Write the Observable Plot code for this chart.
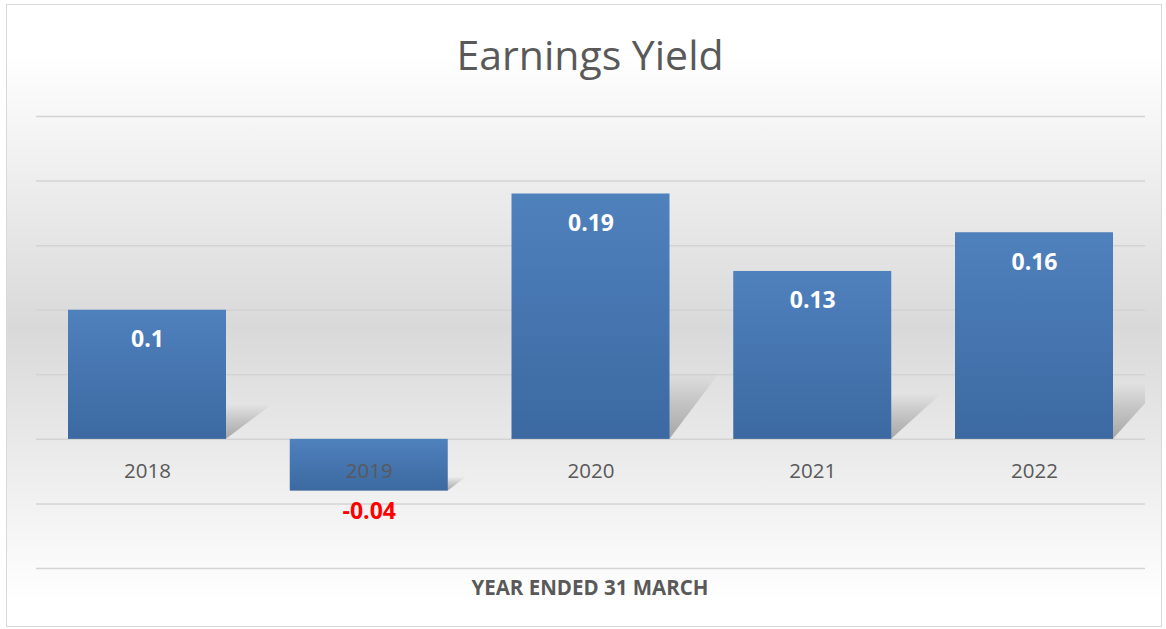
<!DOCTYPE html>
<html>
<head>
<meta charset="utf-8">
<script src="https://cdn.jsdelivr.net/npm/d3@7"></script>
<script src="https://cdn.jsdelivr.net/npm/@observablehq/plot@0.6"></script>
<style>
  body { margin: 0; background: #fff; }
  #chart { position: relative; width: 1166px; height: 629px; overflow: hidden; }
  #bg {
    position: absolute; left: 6px; top: 4px; width: 1156px; height: 623px;
    box-sizing: border-box; border: 1.5px solid #d9d9d9;
    background: linear-gradient(to bottom, #ffffff 0%, #ffffff 8%, #d9d9d9 52%, #ffffff 96%);
  }
  #title {
    position: absolute; left: 0; top: 34px; width: 1180px; text-align: center;
    font-family: "Open Sans", sans-serif; font-size: 41px; line-height: 40px; color: #595959;
  }
  #xlabel {
    position: absolute; left: 0; top: 577px; width: 1180px; text-align: center;
    font-family: "Open Sans", sans-serif; font-weight: bold; font-size: 20.5px; line-height: 20px; color: #595959;
  }
  #plot { position: absolute; left: 0; top: 0; }
  #plot svg { background: transparent; overflow: visible; }
</style>
</head>
<body>
<div id="chart">
  <div id="bg"></div>
  <div id="title"></div>
  <div id="plot"></div>
  <div id="xlabel"></div>
</div>
<script>
const chartTitle = "Earnings Yield";
const axisTitle = "YEAR ENDED 31 MARCH";
const years = ["2018", "2019", "2020", "2021", "2022"];
const values = [0.1, -0.04, 0.19, 0.13, 0.16];
const valueLabels = ["0.1", "-0.04", "0.19", "0.13", "0.16"];
const gridTicks = [-0.1, -0.05, 0, 0.05, 0.1, 0.15, 0.2, 0.25];

document.getElementById("title").textContent = chartTitle;
document.getElementById("xlabel").textContent = axisTitle;

const data = years.map((year, i) => ({year, value: values[i], label: valueLabels[i]}));
const pos = data.filter(d => d.value >= 0);
const neg = data.filter(d => d.value < 0);

const plot = Plot.plot({
  width: 1166,
  height: 629,
  marginLeft: 36,
  marginRight: 21,
  marginTop: 116,
  marginBottom: 61,
  style: {background: "transparent", fontFamily: "Open Sans, sans-serif"},
  x: {domain: years, paddingInner: 0.2875, paddingOuter: 0.1443, round: false, axis: null},
  y: {domain: [-0.1, 0.25], axis: null},
  marks: [
    Plot.ruleY(gridTicks, {stroke: "#d3d3d3", strokeWidth: 1.5}),
    Plot.barY(data, {x: "year", y: "value", fill: "url(#shadowGrad)", clip: true}),
    Plot.barY(data, {x: "year", y: "value", fill: "url(#barGrad)"}),
    Plot.text(pos, {x: "year", y: "value", text: "label", dy: 29.5, fill: "white",
      fontWeight: "bold", fontSize: 23}),
    Plot.text(neg, {x: "year", y: "value", text: "label", dy: 21, fill: "#ff0000",
      fontWeight: "bold", fontSize: 23}),
    Plot.text(data, {x: "year", y: () => 0, text: "year", dy: 32, fill: "#595959", fontSize: 20.5})
  ]
});

const svg = d3.select(plot);
const defs = svg.insert("defs", ":first-child");
const grad = defs.append("linearGradient").attr("id", "barGrad")
  .attr("x1", 0).attr("y1", 0).attr("x2", 0).attr("y2", 1);
grad.append("stop").attr("offset", "0%").attr("stop-color", "#4f81bd");
grad.append("stop").attr("offset", "100%").attr("stop-color", "#3c69a1");
const sg = defs.append("linearGradient").attr("id", "shadowGrad")
  .attr("x1", 0).attr("y1", 0).attr("x2", 0).attr("y2", 1);
sg.append("stop").attr("offset", "0%").attr("stop-color", "#8a8a8a").attr("stop-opacity", 0);
sg.append("stop").attr("offset", "45%").attr("stop-color", "#8a8a8a").attr("stop-opacity", 0.35);
sg.append("stop").attr("offset", "100%").attr("stop-color", "#8a8a8a").attr("stop-opacity", 0.7);

const barGroups = svg.selectAll("g[aria-label='bar']").nodes();
if (barGroups.length) {
  d3.select(barGroups[0]).selectAll("rect").each(function() {
    const r = d3.select(this);
    const y = +r.attr("y"), h = +r.attr("height");
    const y0 = y + h;
    const k = 0.27;
    const off = Math.min(0.36 * h, 50);
    const a = off / h;
    r.attr("transform", `matrix(1,0,${-a},${k},${a * y0},${y0 * (1 - k)})`);
  });
}

document.getElementById("plot").appendChild(plot);
</script>
</body>
</html>
